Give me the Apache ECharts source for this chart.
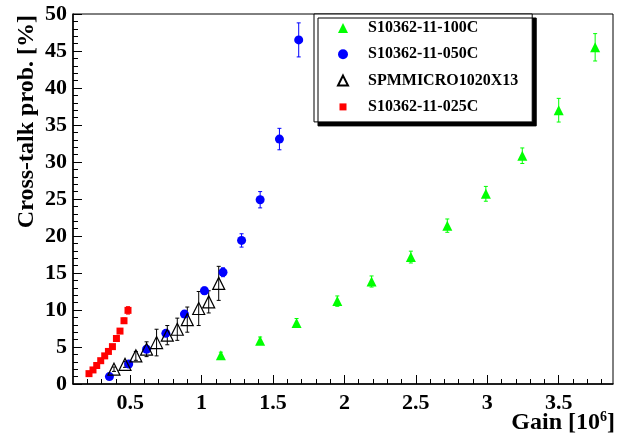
<!DOCTYPE html>
<html>
<head>
<meta charset="utf-8">
<script src="https://cdn.jsdelivr.net/npm/echarts@6/dist/echarts.min.js"></script>
<style>
  html, body { margin: 0; padding: 0; background: #fff; }
  #chart { width: 627px; height: 439px; }
</style>
</head>
<body>
<div id="chart"></div>
<script>
const FONT = '"Liberation Serif", "Times New Roman", serif';

// S10362-11-100C
const gain100 = [1.135, 1.41, 1.665, 1.95, 2.19, 2.465, 2.72, 2.99, 3.245, 3.50, 3.755];
const xtalk100 = [3.9, 5.85, 8.25, 11.2, 13.85, 17.15, 21.4, 25.7, 30.85, 37.0, 45.5];
const err100 = [0.4, 0.5, 0.6, 0.7, 0.75, 0.8, 0.9, 1.0, 1.05, 1.6, 1.85];

// S10362-11-050C
const gain050 = [0.355, 0.49, 0.615, 0.75, 0.88, 1.02, 1.15, 1.28, 1.41, 1.545, 1.68];
const xtalk050 = [1.0, 2.7, 4.7, 6.85, 9.45, 12.6, 15.1, 19.4, 24.9, 33.1, 46.5];
const err050 = [0.3, 0.3, 0.35, 0.4, 0.45, 0.5, 0.6, 0.9, 1.1, 1.45, 2.3];

// SPMMICRO1020X13
const gainSpm = [0.387, 0.464, 0.54, 0.615, 0.685, 0.76, 0.83, 0.90, 0.98, 1.05, 1.12];
const xtalkSpm = [2.0, 2.65, 3.8, 4.7, 5.6, 6.6, 7.4, 8.7, 10.2, 11.1, 13.6];
const errSpm = [0.3, 0.4, 0.6, 1.0, 1.8, 1.3, 1.5, 1.7, 2.3, 1.5, 2.3];

// S10362-11-025C
const gain025 = [0.212, 0.24, 0.266, 0.294, 0.322, 0.348, 0.376, 0.404, 0.429, 0.457, 0.485];
const xtalk025 = [1.4, 1.9, 2.5, 3.15, 3.8, 4.4, 5.05, 6.15, 7.15, 8.55, 9.95];
const err025 = [0.2, 0.2, 0.2, 0.2, 0.2, 0.2, 0.25, 0.25, 0.3, 0.35, 0.5];

const xMajorTicks = [0.5, 1, 1.5, 2, 2.5, 3, 3.5];
const xMinorTicks = [0.2, 0.3, 0.4, 0.6, 0.7, 0.8, 0.9, 1.1, 1.2, 1.3, 1.4, 1.6, 1.7, 1.8, 1.9,
  2.1, 2.2, 2.3, 2.4, 2.6, 2.7, 2.8, 2.9, 3.1, 3.2, 3.3, 3.4, 3.6, 3.7, 3.8];

const X_MIN = 0.1, X_MAX = 3.88;

const chart = echarts.init(document.getElementById('chart'));

const zip = (xs, ys) => xs.map((x, i) => [x, ys[i]]);

// vertical error bars with small end caps
const errorBars = (xs, ys, errs, color) => ({
  type: 'custom',
  silent: true,
  z: 1,
  data: xs.map((x, i) => [x, ys[i] - errs[i], ys[i] + errs[i]]),
  encode: { x: 0, y: [1, 2] },
  renderItem: (params, api) => {
    const top = api.coord([api.value(0), api.value(2)]);
    const bot = api.coord([api.value(0), api.value(1)]);
    const style = { stroke: color, lineWidth: 1 };
    const cap = 2;
    return {
      type: 'group',
      children: [
        { type: 'line', shape: { x1: top[0], y1: top[1], x2: bot[0], y2: bot[1] }, style },
        { type: 'line', shape: { x1: top[0] - cap, y1: top[1], x2: top[0] + cap, y2: top[1] }, style },
        { type: 'line', shape: { x1: bot[0] - cap, y1: bot[1], x2: bot[0] + cap, y2: bot[1] }, style }
      ]
    };
  }
});

const option = {
  animation: false,
  grid: {
    left: 73, right: 14, top: 14, bottom: 55,
    show: true,
    borderColor: '#000',
    borderWidth: 1,
    backgroundColor: 'transparent',
    outerBoundsMode: 'none'
  },
  legend: {
    data: [
      { name: 'S10362-11-100C' },
      { name: 'S10362-11-050C' },
      { name: 'SPMMICRO1020X13' },
      { name: 'S10362-11-025C', icon: 'path://M0,0M10,10M1.5,1.5L8.5,1.5L8.5,8.5L1.5,8.5Z' }
    ],
    orient: 'vertical',
    left: 314,
    top: 14,
    padding: [6, 14, 7, 23],
    itemGap: 10.3,
    itemWidth: 10,
    itemHeight: 10,
    backgroundColor: '#fff',
    borderColor: '#000',
    borderWidth: 1,
    shadowColor: '#000',
    shadowBlur: 0,
    shadowOffsetX: 4,
    shadowOffsetY: 4,
    selectedMode: false,
    textStyle: {
      fontFamily: FONT, fontWeight: 'bold', fontSize: 16, lineHeight: 16, color: '#000',
      padding: [0, 0, 0, 15]
    }
  },
  xAxis: [
    {
      type: 'value',
      min: X_MIN,
      max: X_MAX,
      position: 'bottom',
      name: 'Gain [10{s|6}]',
      nameLocation: 'end',
      nameGap: 2,
      nameMoveOverlap: false,
      nameTextStyle: {
        fontFamily: FONT, fontWeight: 'bold', fontSize: 24, lineHeight: 26, color: '#000',
        align: 'right', verticalAlign: 'top', padding: [26, 0, 0, 0],
        rich: { s: { fontFamily: FONT, fontWeight: 'bold', fontSize: 14, lineHeight: 14, padding: [0, 0, 12, 0] } }
      },
      axisLine: { lineStyle: { color: '#000', width: 1.5 } },
      axisTick: { inside: true, length: 9, customValues: xMajorTicks, lineStyle: { color: '#000', width: 1 } },
      axisLabel: {
        customValues: xMajorTicks,
        fontFamily: FONT, fontWeight: 'bold', fontSize: 22, color: '#000', margin: 8
      },
      splitLine: { show: false }
    },
    {
      type: 'value',
      min: X_MIN,
      max: X_MAX,
      position: 'bottom',
      axisLine: { show: false },
      axisTick: { inside: true, length: 5, customValues: xMinorTicks, lineStyle: { color: '#000', width: 1 } },
      axisLabel: { show: false },
      splitLine: { show: false }
    }
  ],
  yAxis: {
    type: 'value',
    min: 0,
    max: 50,
    interval: 5,
    name: 'Cross-talk prob. [%]',
    nameLocation: 'end',
    nameRotate: 90,
    nameGap: -1,
    nameMoveOverlap: false,
    nameTextStyle: {
      fontFamily: FONT, fontWeight: 'bold', fontSize: 24, lineHeight: 24, color: '#000',
      align: 'right', verticalAlign: 'bottom', padding: [0, 0, 34, 0]
    },
    axisLine: { lineStyle: { color: '#000', width: 1.5 } },
    axisTick: { inside: true, length: 9, lineStyle: { color: '#000', width: 1 } },
    minorTick: { show: true, splitNumber: 5, length: 5, lineStyle: { color: '#000', width: 1 } },
    axisLabel: { fontFamily: FONT, fontWeight: 'bold', fontSize: 22, color: '#000', margin: 6 },
    splitLine: { show: false }
  },
  series: [
    errorBars(gain100, xtalk100, err100, '#00ff00'),
    errorBars(gain050, xtalk050, err050, '#0000ff'),
    errorBars(gainSpm, xtalkSpm, errSpm, '#000'),
    errorBars(gain025, xtalk025, err025, '#ff0000'),
    {
      name: 'S10362-11-100C',
      type: 'scatter',
      symbol: 'triangle',
      symbolSize: 10,
      z: 2,
      itemStyle: { color: '#00ff00', opacity: 1 },
      data: zip(gain100, xtalk100)
    },
    {
      name: 'S10362-11-050C',
      type: 'scatter',
      symbol: 'circle',
      symbolSize: 9,
      z: 2,
      itemStyle: { color: '#0000ff', opacity: 1 },
      data: zip(gain050, xtalk050)
    },
    {
      name: 'SPMMICRO1020X13',
      type: 'scatter',
      symbol: 'triangle',
      symbolSize: 12,
      z: 3,
      itemStyle: { color: 'rgba(255,255,255,0)', borderColor: '#000', borderWidth: 1.2, opacity: 1 },
      data: zip(gainSpm, xtalkSpm)
    },
    {
      name: 'S10362-11-025C',
      type: 'scatter',
      symbol: 'rect',
      symbolSize: 7,
      z: 3,
      itemStyle: { color: '#ff0000', opacity: 1 },
      data: zip(gain025, xtalk025)
    }
  ]
};

chart.setOption(option);
</script>
</body>
</html>
